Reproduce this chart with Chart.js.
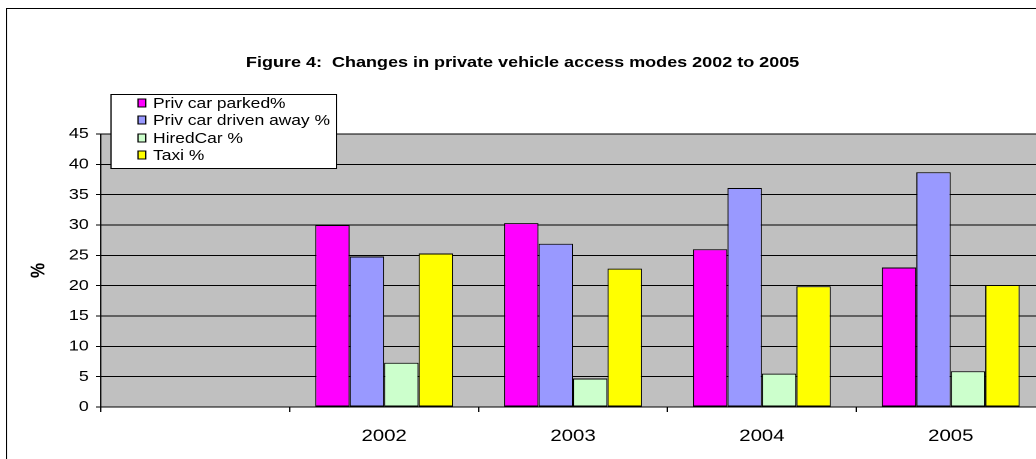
<!DOCTYPE html>
<html>
<head>
<meta charset="utf-8">
<script src="https://cdn.jsdelivr.net/npm/chart.js@4/dist/chart.umd.min.js"></script>
<style>
  html, body { margin: 0; padding: 0; background: #fff; overflow: hidden; }
  #wrap { width: 1036px; height: 459px; overflow: hidden; position: relative; }
  /* the original picture is an Excel chart stretched sideways, so stretch the canvas the same way */
  #stretch { position: absolute; left: 0; top: 0; width: 875px; height: 459px; transform: scaleX(1.2); transform-origin: 0 0; }
</style>
</head>
<body>
<div id="wrap"><div id="stretch"><canvas id="chart" width="875" height="459"></canvas></div></div>
<script>
// categories (first slot is empty in the original sheet)
const years = ['', '2002', '2003', '2004', '2005'];

const seriesNames = ['Priv car parked%', 'Priv car driven away %', 'HiredCar %', 'Taxi %'];
const privParked = [null, 30.0, 30.3, 26.0, 23.0];
const privDrivenAway = [null, 24.8, 26.9, 36.1, 38.7];
const hiredCar = [null, 7.3, 4.7, 5.5, 5.9];
const taxi = [null, 25.3, 22.8, 19.9, 20.1];

const yTicks = [0, 5, 10, 15, 20, 25, 30, 35, 40, 45];

const colours = ['#FF00FF', '#9999FF', '#CCFFCC', '#FFFF00'];
const FONT = "'Liberation Sans', Arial, sans-serif";

// white page, outer frame and grey plot area
const backdrop = {
  id: 'backdrop',
  beforeDraw(chart) {
    const ctx = chart.ctx;
    const a = chart.chartArea;
    ctx.save();
    ctx.fillStyle = '#fff';
    ctx.fillRect(0, 0, chart.width, chart.height);
    ctx.strokeStyle = '#000';
    ctx.lineWidth = 1;
    ctx.strokeRect(5.5, 8.5, chart.width + 20, chart.height + 20);
    ctx.fillStyle = '#C0C0C0';
    ctx.fillRect(a.left, a.top, a.right - a.left, a.bottom - a.top);
    ctx.restore();
  }
};

// boxed legend sitting over the top of the plot, like the Excel one
const boxLegend = {
  id: 'boxLegend',
  afterDraw(chart) {
    const ctx = chart.ctx;
    ctx.save();
    ctx.fillStyle = '#fff';
    ctx.fillRect(92.5, 94.5, 188, 74);
    ctx.strokeStyle = '#000';
    ctx.lineWidth = 1;
    ctx.strokeRect(92.5, 94.5, 188, 74);
    ctx.font = '14.5px ' + FONT;
    ctx.textBaseline = 'middle';
    chart.data.datasets.forEach((ds, i) => {
      const y = Math.round(103 + i * 17.3);
      ctx.fillStyle = ds.backgroundColor;
      ctx.fillRect(115, y - 4, 6.5, 8);
      ctx.strokeStyle = '#000';
      ctx.strokeRect(115, y - 4, 6.5, 8);
      ctx.fillStyle = '#000';
      ctx.fillText(ds.label, 127.5, y + 1);
    });
    ctx.restore();
  }
};

const ctx = document.getElementById('chart').getContext('2d');

const myChart = new Chart(ctx, {
  type: 'bar',
  data: {
    labels: years,
    datasets: [
      { label: seriesNames[0], data: privParked, backgroundColor: colours[0] },
      { label: seriesNames[1], data: privDrivenAway, backgroundColor: colours[1] },
      { label: seriesNames[2], data: hiredCar, backgroundColor: colours[2] },
      { label: seriesNames[3], data: taxi, backgroundColor: colours[3] },
    ].map(d => Object.assign(d, { borderColor: '#000', borderWidth: 1, borderSkipped: false })),
  },
  options: {
    responsive: false,
    animation: false,
    devicePixelRatio: 2,
    layout: { padding: { left: 0, right: 4, top: 0, bottom: 0 } },
    datasets: { bar: { categoryPercentage: 0.73, barPercentage: 1.0 } },
    plugins: {
      legend: { display: false },
      tooltip: { enabled: false },
      title: {
        display: true,
        text: 'Figure 4:  Changes in private vehicle access modes 2002 to 2005',
        color: '#000',
        font: { family: FONT, size: 15, weight: 'bold' },
        padding: { top: 54, bottom: 62 },
      },
    },
    scales: {
      x: {
        grid: { display: true, drawOnChartArea: false, drawTicks: true, tickLength: 5, color: '#000', offset: true },
        border: { color: '#000' },
        ticks: { color: '#000', font: { family: FONT, size: 17 }, padding: 14, maxRotation: 0 },
        afterFit(scale) { scale.height = 52; },
      },
      y: {
        min: 0,
        max: 45,
        afterBuildTicks(scale) { scale.ticks = yTicks.map(v => ({ value: v })); },
        grid: { color: '#000', tickLength: 4 },
        border: { color: '#000' },
        ticks: { color: '#000', font: { family: FONT, size: 15 }, padding: 6 },
        title: {
          display: true,
          text: '%',
          color: '#000',
          font: { family: FONT, size: 17, weight: 'bold' },
          padding: { top: 22, bottom: 0 },
        },
        afterFit(scale) { scale.width = 84; },
      },
    },
  },
  plugins: [backdrop, boxLegend],
});
</script>
</body>
</html>
